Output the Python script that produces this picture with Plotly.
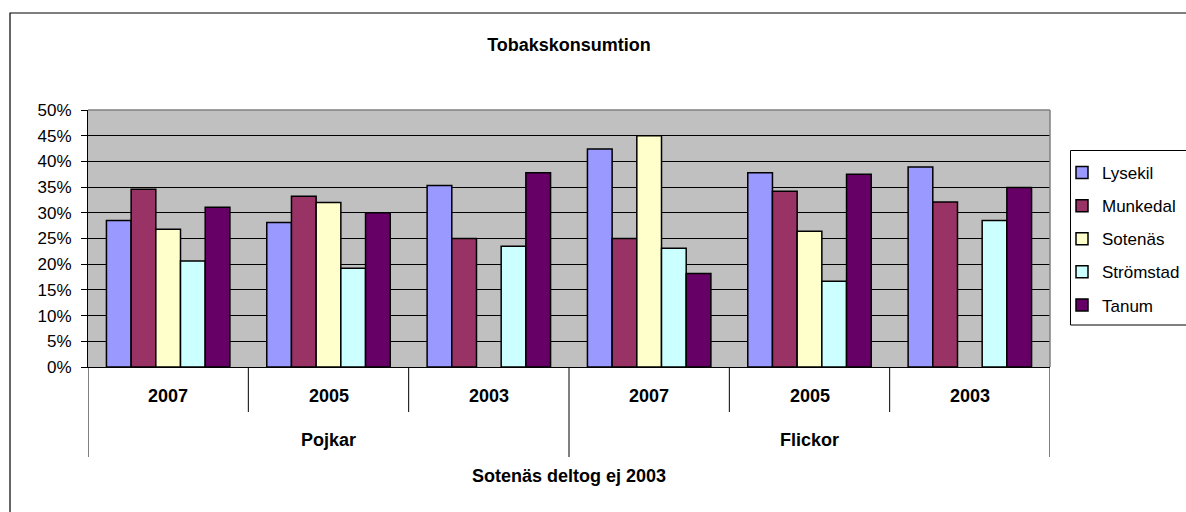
import plotly.graph_objects as go

# ---- data ----
groups = ["Pojkar", "Flickor"]
years = ["2007", "2005", "2003"]
series_names = ["Lysekil", "Munkedal", "Sotenäs", "Strömstad", "Tanum"]
lysekil = [28.5, 28.1, 35.3, 42.4, 37.8, 38.9]
munkedal = [34.6, 33.2, 25.0, 25.0, 34.2, 32.1]
sotenas = [26.8, 32.0, None, 45.0, 26.4, None]
stromstad = [20.6, 19.2, 23.5, 23.1, 16.7, 28.5]
tanum = [31.1, 30.0, 37.8, 18.2, 37.5, 34.9]
colors = ["#9999FF", "#993366", "#FFFFCC", "#CCFFFF", "#660066"]
y_ticks = [0, 5, 10, 15, 20, 25, 30, 35, 40, 45, 50]
y_ticktext = [f"{v}%" for v in y_ticks]
title_text = "Tobakskonsumtion"
xaxis_title = "Sotenäs deltog ej 2003"

FONT = "Liberation Sans, Arial, sans-serif"
W, H = 1186, 512
L, R, T, B = 88, 136, 110, 145
plot_h = H - T - B

def py(px):
    """pixel y (from top) -> paper y"""
    return (H - B - px) / plot_h

def pxx(px):
    return (px - L) / (W - L - R)

n_cat = len(groups) * len(years)
xs = list(range(n_cat))

fig = go.Figure()
all_vals = [lysekil, munkedal, sotenas, stromstad, tanum]
for i, (name, vals, col) in enumerate(zip(series_names, all_vals, colors)):
    fig.add_trace(go.Bar(
        x=xs, y=vals, name=name, legendgroup=name,
        marker=dict(color=col, line=dict(color="black", width=1.5)),
    ))

bold = dict(family=FONT, size=18, color="black", weight="bold")

# category labels and dividers
annotations = []
shapes = []
for gi, g in enumerate(groups):
    for yi, yr in enumerate(years):
        idx = gi * len(years) + yi
        annotations.append(dict(x=idx, y=py(396), xref="x", yref="paper", text=yr,
                                showarrow=False, font=bold, yanchor="middle"))
    center = gi * len(years) + (len(years) - 1) / 2
    annotations.append(dict(x=center, y=py(440), xref="x", yref="paper", text=g,
                            showarrow=False, font=bold, yanchor="middle"))
for b in range(n_cat + 1):
    xb = b - 0.5
    is_group = (b % len(years) == 0)
    shapes.append(dict(type="line", xref="x", yref="paper", x0=xb, x1=xb,
                       y0=0, y1=py(457) if is_group else py(412),
                       line=dict(color="black", width=1)))

annotations.append(dict(x=0.5, y=py(476), xref="paper", yref="paper", text=xaxis_title,
                        showarrow=False, font=bold, yanchor="middle"))

# grey plot-area border (top & right)
shapes.append(dict(type="line", xref="paper", yref="paper", x0=0, x1=1, y0=1, y1=1,
                   line=dict(color="#808080", width=1.5), layer="above"))
shapes.append(dict(type="line", xref="paper", yref="paper", x0=1, x1=1, y0=0, y1=1,
                   line=dict(color="#808080", width=1.5), layer="above"))
# outer chart border
shapes.append(dict(type="rect", xref="paper", yref="paper", x0=pxx(10), x1=1.5,
                   y0=py(13), y1=-1.0, line=dict(color="black", width=1.2)))
# legend box
shapes.append(dict(type="rect", xref="paper", yref="paper", x0=pxx(1070.5), x1=pxx(1200),
                   y0=py(150.5), y1=py(325), line=dict(color="black", width=1),
                   fillcolor="white", layer="above"))

fig.update_layout(
    width=W, height=H,
    margin=dict(l=L, r=R, t=T, b=B, autoexpand=False),
    paper_bgcolor="white",
    plot_bgcolor="#C0C0C0",
    barmode="group",
    bargap=0.23,
    bargroupgap=0,
    title=dict(text=title_text, x=0.5, xref="paper", xanchor="center",
               y=1 - 45 / H, yref="container", yanchor="middle",
               font=bold),
    font=dict(family=FONT, color="black"),
    xaxis=dict(range=[-0.5, n_cat - 0.5], showticklabels=False, showgrid=False,
               zeroline=False, showline=True, linecolor="black", linewidth=1,
               ticks=""),
    yaxis=dict(range=[0, 50], tickvals=y_ticks, ticktext=y_ticktext,
               showgrid=True, gridcolor="black", gridwidth=1,
               zeroline=False, showline=True, linecolor="black", linewidth=1,
               ticks="outside", ticklen=6, tickcolor="black",
               ticklabelstandoff=6,
               tickfont=dict(family=FONT, size=17, color="black")),
    legend=dict(x=pxx(1062), y=py(155), xanchor="left", yanchor="top",
                borderwidth=0, bgcolor="rgba(0,0,0,0)",
                font=dict(family=FONT, size=17, color="black"),
                tracegroupgap=8, traceorder="grouped"),
    annotations=annotations,
    shapes=shapes,
    showlegend=True,
)

fig.write_html("out.html", config={"displayModeBar": False},
               post_script="document.body.style.margin='0';")
